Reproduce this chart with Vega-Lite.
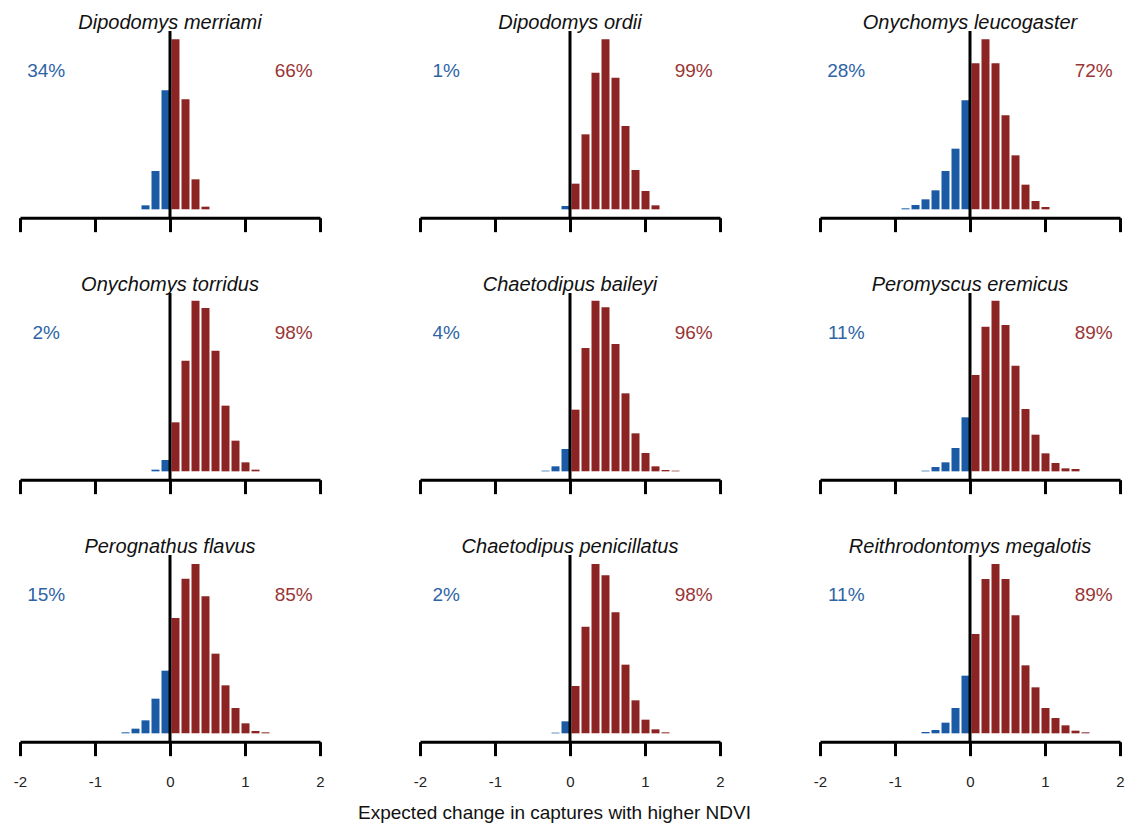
{
  "$schema": "https://vega.github.io/schema/vega-lite/v6.json",
  "autosize": {"type": "pad"},
  "padding": {"left": 13, "top": 12, "right": 0, "bottom": 0},
  "background": "white",
  "datasets": {
    "bars": [
      {"species": "Dipodomys merriami", "x0": -0.4, "x1": -0.2667, "h": 12, "sign": "neg"},
      {"species": "Dipodomys merriami", "x0": -0.2667, "x1": -0.1333, "h": 115, "sign": "neg"},
      {"species": "Dipodomys merriami", "x0": -0.1333, "x1": 0, "h": 357, "sign": "neg"},
      {"species": "Dipodomys merriami", "x0": 0, "x1": 0.1333, "h": 510, "sign": "pos"},
      {"species": "Dipodomys merriami", "x0": 0.1333, "x1": 0.2667, "h": 330, "sign": "pos"},
      {"species": "Dipodomys merriami", "x0": 0.2667, "x1": 0.4, "h": 90, "sign": "pos"},
      {"species": "Dipodomys merriami", "x0": 0.4, "x1": 0.5333, "h": 8, "sign": "pos"},

      {"species": "Dipodomys ordii", "x0": -0.1333, "x1": 0, "h": 10, "sign": "neg"},
      {"species": "Dipodomys ordii", "x0": 0, "x1": 0.1333, "h": 77, "sign": "pos"},
      {"species": "Dipodomys ordii", "x0": 0.1333, "x1": 0.2667, "h": 225, "sign": "pos"},
      {"species": "Dipodomys ordii", "x0": 0.2667, "x1": 0.4, "h": 410, "sign": "pos"},
      {"species": "Dipodomys ordii", "x0": 0.4, "x1": 0.5333, "h": 510, "sign": "pos"},
      {"species": "Dipodomys ordii", "x0": 0.5333, "x1": 0.6667, "h": 395, "sign": "pos"},
      {"species": "Dipodomys ordii", "x0": 0.6667, "x1": 0.8, "h": 250, "sign": "pos"},
      {"species": "Dipodomys ordii", "x0": 0.8, "x1": 0.9333, "h": 118, "sign": "pos"},
      {"species": "Dipodomys ordii", "x0": 0.9333, "x1": 1.0667, "h": 55, "sign": "pos"},
      {"species": "Dipodomys ordii", "x0": 1.0667, "x1": 1.2, "h": 12, "sign": "pos"},

      {"species": "Onychomys leucogaster", "x0": -0.9333, "x1": -0.8, "h": 3, "sign": "neg"},
      {"species": "Onychomys leucogaster", "x0": -0.8, "x1": -0.6667, "h": 13, "sign": "neg"},
      {"species": "Onychomys leucogaster", "x0": -0.6667, "x1": -0.5333, "h": 30, "sign": "neg"},
      {"species": "Onychomys leucogaster", "x0": -0.5333, "x1": -0.4, "h": 57, "sign": "neg"},
      {"species": "Onychomys leucogaster", "x0": -0.4, "x1": -0.2667, "h": 115, "sign": "neg"},
      {"species": "Onychomys leucogaster", "x0": -0.2667, "x1": -0.1333, "h": 182, "sign": "neg"},
      {"species": "Onychomys leucogaster", "x0": -0.1333, "x1": 0, "h": 327, "sign": "neg"},
      {"species": "Onychomys leucogaster", "x0": 0, "x1": 0.1333, "h": 438, "sign": "pos"},
      {"species": "Onychomys leucogaster", "x0": 0.1333, "x1": 0.2667, "h": 510, "sign": "pos"},
      {"species": "Onychomys leucogaster", "x0": 0.2667, "x1": 0.4, "h": 438, "sign": "pos"},
      {"species": "Onychomys leucogaster", "x0": 0.4, "x1": 0.5333, "h": 282, "sign": "pos"},
      {"species": "Onychomys leucogaster", "x0": 0.5333, "x1": 0.6667, "h": 162, "sign": "pos"},
      {"species": "Onychomys leucogaster", "x0": 0.6667, "x1": 0.8, "h": 74, "sign": "pos"},
      {"species": "Onychomys leucogaster", "x0": 0.8, "x1": 0.9333, "h": 25, "sign": "pos"},
      {"species": "Onychomys leucogaster", "x0": 0.9333, "x1": 1.0667, "h": 7, "sign": "pos"},

      {"species": "Onychomys torridus", "x0": -0.2667, "x1": -0.1333, "h": 5, "sign": "neg"},
      {"species": "Onychomys torridus", "x0": -0.1333, "x1": 0, "h": 34, "sign": "neg"},
      {"species": "Onychomys torridus", "x0": 0, "x1": 0.1333, "h": 147, "sign": "pos"},
      {"species": "Onychomys torridus", "x0": 0.1333, "x1": 0.2667, "h": 332, "sign": "pos"},
      {"species": "Onychomys torridus", "x0": 0.2667, "x1": 0.4, "h": 512, "sign": "pos"},
      {"species": "Onychomys torridus", "x0": 0.4, "x1": 0.5333, "h": 490, "sign": "pos"},
      {"species": "Onychomys torridus", "x0": 0.5333, "x1": 0.6667, "h": 362, "sign": "pos"},
      {"species": "Onychomys torridus", "x0": 0.6667, "x1": 0.8, "h": 197, "sign": "pos"},
      {"species": "Onychomys torridus", "x0": 0.8, "x1": 0.9333, "h": 92, "sign": "pos"},
      {"species": "Onychomys torridus", "x0": 0.9333, "x1": 1.0667, "h": 27, "sign": "pos"},
      {"species": "Onychomys torridus", "x0": 1.0667, "x1": 1.2, "h": 5, "sign": "pos"},

      {"species": "Chaetodipus baileyi", "x0": -0.4, "x1": -0.2667, "h": 2, "sign": "neg"},
      {"species": "Chaetodipus baileyi", "x0": -0.2667, "x1": -0.1333, "h": 15, "sign": "neg"},
      {"species": "Chaetodipus baileyi", "x0": -0.1333, "x1": 0, "h": 67, "sign": "neg"},
      {"species": "Chaetodipus baileyi", "x0": 0, "x1": 0.1333, "h": 185, "sign": "pos"},
      {"species": "Chaetodipus baileyi", "x0": 0.1333, "x1": 0.2667, "h": 370, "sign": "pos"},
      {"species": "Chaetodipus baileyi", "x0": 0.2667, "x1": 0.4, "h": 512, "sign": "pos"},
      {"species": "Chaetodipus baileyi", "x0": 0.4, "x1": 0.5333, "h": 492, "sign": "pos"},
      {"species": "Chaetodipus baileyi", "x0": 0.5333, "x1": 0.6667, "h": 382, "sign": "pos"},
      {"species": "Chaetodipus baileyi", "x0": 0.6667, "x1": 0.8, "h": 234, "sign": "pos"},
      {"species": "Chaetodipus baileyi", "x0": 0.8, "x1": 0.9333, "h": 114, "sign": "pos"},
      {"species": "Chaetodipus baileyi", "x0": 0.9333, "x1": 1.0667, "h": 55, "sign": "pos"},
      {"species": "Chaetodipus baileyi", "x0": 1.0667, "x1": 1.2, "h": 15, "sign": "pos"},
      {"species": "Chaetodipus baileyi", "x0": 1.2, "x1": 1.3333, "h": 4, "sign": "pos"},
      {"species": "Chaetodipus baileyi", "x0": 1.3333, "x1": 1.4667, "h": 2, "sign": "pos"},

      {"species": "Peromyscus eremicus", "x0": -0.6667, "x1": -0.5333, "h": 2, "sign": "neg"},
      {"species": "Peromyscus eremicus", "x0": -0.5333, "x1": -0.4, "h": 13, "sign": "neg"},
      {"species": "Peromyscus eremicus", "x0": -0.4, "x1": -0.2667, "h": 27, "sign": "neg"},
      {"species": "Peromyscus eremicus", "x0": -0.2667, "x1": -0.1333, "h": 70, "sign": "neg"},
      {"species": "Peromyscus eremicus", "x0": -0.1333, "x1": 0, "h": 162, "sign": "neg"},
      {"species": "Peromyscus eremicus", "x0": 0, "x1": 0.1333, "h": 289, "sign": "pos"},
      {"species": "Peromyscus eremicus", "x0": 0.1333, "x1": 0.2667, "h": 434, "sign": "pos"},
      {"species": "Peromyscus eremicus", "x0": 0.2667, "x1": 0.4, "h": 512, "sign": "pos"},
      {"species": "Peromyscus eremicus", "x0": 0.4, "x1": 0.5333, "h": 439, "sign": "pos"},
      {"species": "Peromyscus eremicus", "x0": 0.5333, "x1": 0.6667, "h": 317, "sign": "pos"},
      {"species": "Peromyscus eremicus", "x0": 0.6667, "x1": 0.8, "h": 187, "sign": "pos"},
      {"species": "Peromyscus eremicus", "x0": 0.8, "x1": 0.9333, "h": 110, "sign": "pos"},
      {"species": "Peromyscus eremicus", "x0": 0.9333, "x1": 1.0667, "h": 54, "sign": "pos"},
      {"species": "Peromyscus eremicus", "x0": 1.0667, "x1": 1.2, "h": 25, "sign": "pos"},
      {"species": "Peromyscus eremicus", "x0": 1.2, "x1": 1.3333, "h": 9, "sign": "pos"},
      {"species": "Peromyscus eremicus", "x0": 1.3333, "x1": 1.4667, "h": 7, "sign": "pos"},

      {"species": "Perognathus flavus", "x0": -0.6667, "x1": -0.5333, "h": 3, "sign": "neg"},
      {"species": "Perognathus flavus", "x0": -0.5333, "x1": -0.4, "h": 14, "sign": "neg"},
      {"species": "Perognathus flavus", "x0": -0.4, "x1": -0.2667, "h": 39, "sign": "neg"},
      {"species": "Perognathus flavus", "x0": -0.2667, "x1": -0.1333, "h": 104, "sign": "neg"},
      {"species": "Perognathus flavus", "x0": -0.1333, "x1": 0, "h": 188, "sign": "neg"},
      {"species": "Perognathus flavus", "x0": 0, "x1": 0.1333, "h": 346, "sign": "pos"},
      {"species": "Perognathus flavus", "x0": 0.1333, "x1": 0.2667, "h": 464, "sign": "pos"},
      {"species": "Perognathus flavus", "x0": 0.2667, "x1": 0.4, "h": 508, "sign": "pos"},
      {"species": "Perognathus flavus", "x0": 0.4, "x1": 0.5333, "h": 411, "sign": "pos"},
      {"species": "Perognathus flavus", "x0": 0.5333, "x1": 0.6667, "h": 239, "sign": "pos"},
      {"species": "Perognathus flavus", "x0": 0.6667, "x1": 0.8, "h": 144, "sign": "pos"},
      {"species": "Perognathus flavus", "x0": 0.8, "x1": 0.9333, "h": 76, "sign": "pos"},
      {"species": "Perognathus flavus", "x0": 0.9333, "x1": 1.0667, "h": 30, "sign": "pos"},
      {"species": "Perognathus flavus", "x0": 1.0667, "x1": 1.2, "h": 7, "sign": "pos"},
      {"species": "Perognathus flavus", "x0": 1.2, "x1": 1.3333, "h": 3, "sign": "pos"},

      {"species": "Chaetodipus penicillatus", "x0": -0.2667, "x1": -0.1333, "h": 2, "sign": "neg"},
      {"species": "Chaetodipus penicillatus", "x0": -0.1333, "x1": 0, "h": 36, "sign": "neg"},
      {"species": "Chaetodipus penicillatus", "x0": 0, "x1": 0.1333, "h": 142, "sign": "pos"},
      {"species": "Chaetodipus penicillatus", "x0": 0.1333, "x1": 0.2667, "h": 320, "sign": "pos"},
      {"species": "Chaetodipus penicillatus", "x0": 0.2667, "x1": 0.4, "h": 508, "sign": "pos"},
      {"species": "Chaetodipus penicillatus", "x0": 0.4, "x1": 0.5333, "h": 474, "sign": "pos"},
      {"species": "Chaetodipus penicillatus", "x0": 0.5333, "x1": 0.6667, "h": 363, "sign": "pos"},
      {"species": "Chaetodipus penicillatus", "x0": 0.6667, "x1": 0.8, "h": 206, "sign": "pos"},
      {"species": "Chaetodipus penicillatus", "x0": 0.8, "x1": 0.9333, "h": 99, "sign": "pos"},
      {"species": "Chaetodipus penicillatus", "x0": 0.9333, "x1": 1.0667, "h": 41, "sign": "pos"},
      {"species": "Chaetodipus penicillatus", "x0": 1.0667, "x1": 1.2, "h": 12, "sign": "pos"},
      {"species": "Chaetodipus penicillatus", "x0": 1.2, "x1": 1.3333, "h": 3, "sign": "pos"},

      {"species": "Reithrodontomys megalotis", "x0": -0.6667, "x1": -0.5333, "h": 4, "sign": "neg"},
      {"species": "Reithrodontomys megalotis", "x0": -0.5333, "x1": -0.4, "h": 10, "sign": "neg"},
      {"species": "Reithrodontomys megalotis", "x0": -0.4, "x1": -0.2667, "h": 32, "sign": "neg"},
      {"species": "Reithrodontomys megalotis", "x0": -0.2667, "x1": -0.1333, "h": 76, "sign": "neg"},
      {"species": "Reithrodontomys megalotis", "x0": -0.1333, "x1": 0, "h": 173, "sign": "neg"},
      {"species": "Reithrodontomys megalotis", "x0": 0, "x1": 0.1333, "h": 298, "sign": "pos"},
      {"species": "Reithrodontomys megalotis", "x0": 0.1333, "x1": 0.2667, "h": 463, "sign": "pos"},
      {"species": "Reithrodontomys megalotis", "x0": 0.2667, "x1": 0.4, "h": 508, "sign": "pos"},
      {"species": "Reithrodontomys megalotis", "x0": 0.4, "x1": 0.5333, "h": 463, "sign": "pos"},
      {"species": "Reithrodontomys megalotis", "x0": 0.5333, "x1": 0.6667, "h": 354, "sign": "pos"},
      {"species": "Reithrodontomys megalotis", "x0": 0.6667, "x1": 0.8, "h": 204, "sign": "pos"},
      {"species": "Reithrodontomys megalotis", "x0": 0.8, "x1": 0.9333, "h": 138, "sign": "pos"},
      {"species": "Reithrodontomys megalotis", "x0": 0.9333, "x1": 1.0667, "h": 76, "sign": "pos"},
      {"species": "Reithrodontomys megalotis", "x0": 1.0667, "x1": 1.2, "h": 46, "sign": "pos"},
      {"species": "Reithrodontomys megalotis", "x0": 1.2, "x1": 1.3333, "h": 24, "sign": "pos"},
      {"species": "Reithrodontomys megalotis", "x0": 1.3333, "x1": 1.4667, "h": 8, "sign": "pos"},
      {"species": "Reithrodontomys megalotis", "x0": 1.4667, "x1": 1.6, "h": 3, "sign": "pos"}
    ],
    "labels": [
      {"species": "Dipodomys merriami", "neg": "34%", "pos": "66%"},
      {"species": "Dipodomys ordii", "neg": "1%", "pos": "99%"},
      {"species": "Onychomys leucogaster", "neg": "28%", "pos": "72%"},
      {"species": "Onychomys torridus", "neg": "2%", "pos": "98%"},
      {"species": "Chaetodipus baileyi", "neg": "4%", "pos": "96%"},
      {"species": "Peromyscus eremicus", "neg": "11%", "pos": "89%"},
      {"species": "Perognathus flavus", "neg": "15%", "pos": "85%"},
      {"species": "Chaetodipus penicillatus", "neg": "2%", "pos": "98%"},
      {"species": "Reithrodontomys megalotis", "neg": "11%", "pos": "89%"}
    ]
  },
  "columns": 3,
  "spacing": {"row": 75, "column": 100},
  "bounds": "flush",
  "concat": [
    {"width": 300, "height": 186.667, "title": "Dipodomys merriami", "transform": [{"filter": "datum.species === 'Dipodomys merriami'"}], "data": {"name": "bars"},
     "layer": [
      {"mark": {"type": "bar", "binSpacing": 2}, "encoding": {"x": {"field": "x0", "type": "quantitative", "bin": "binned", "scale": {"domain": [-2, 2], "nice": false}, "axis": {"values": [-2, -1, 0, 1, 2], "labels": false, "title": null}}, "x2": {"field": "x1"}, "y": {"field": "h", "type": "quantitative", "scale": {"domain": [-25, 535], "nice": false, "zero": false}, "axis": null}, "y2": {"datum": 0}, "color": {"field": "sign", "type": "nominal", "scale": {"domain": ["neg", "pos"], "range": ["#1b5aa5", "#8c2424"]}, "legend": null}}},
      {"data": {"name": "labels"}, "transform": [{"filter": "datum.species === 'Dipodomys merriami'"}], "mark": {"type": "rule", "strokeWidth": 3, "color": "black"}, "encoding": {"x": {"datum": 0}, "y": {"datum": -25}, "y2": {"datum": 535}}},
      {"data": {"name": "labels"}, "transform": [{"filter": "datum.species === 'Dipodomys merriami'"}], "mark": {"type": "text", "fontSize": 19, "color": "#2e64a6", "baseline": "middle"}, "encoding": {"x": {"datum": -1.65}, "y": {"datum": 415}, "text": {"field": "neg"}}},
      {"data": {"name": "labels"}, "transform": [{"filter": "datum.species === 'Dipodomys merriami'"}], "mark": {"type": "text", "fontSize": 19, "color": "#993636", "baseline": "middle"}, "encoding": {"x": {"datum": 1.65}, "y": {"datum": 415}, "text": {"field": "pos"}}}
     ]},
    {"width": 300, "height": 186.667, "title": "Dipodomys ordii", "transform": [{"filter": "datum.species === 'Dipodomys ordii'"}], "data": {"name": "bars"},
     "layer": [
      {"mark": {"type": "bar", "binSpacing": 2}, "encoding": {"x": {"field": "x0", "type": "quantitative", "bin": "binned", "scale": {"domain": [-2, 2], "nice": false}, "axis": {"values": [-2, -1, 0, 1, 2], "labels": false, "title": null}}, "x2": {"field": "x1"}, "y": {"field": "h", "type": "quantitative", "scale": {"domain": [-25, 535], "nice": false, "zero": false}, "axis": null}, "y2": {"datum": 0}, "color": {"field": "sign", "type": "nominal", "scale": {"domain": ["neg", "pos"], "range": ["#1b5aa5", "#8c2424"]}, "legend": null}}},
      {"data": {"name": "labels"}, "transform": [{"filter": "datum.species === 'Dipodomys ordii'"}], "mark": {"type": "rule", "strokeWidth": 3, "color": "black"}, "encoding": {"x": {"datum": 0}, "y": {"datum": -25}, "y2": {"datum": 535}}},
      {"data": {"name": "labels"}, "transform": [{"filter": "datum.species === 'Dipodomys ordii'"}], "mark": {"type": "text", "fontSize": 19, "color": "#2e64a6", "baseline": "middle"}, "encoding": {"x": {"datum": -1.65}, "y": {"datum": 415}, "text": {"field": "neg"}}},
      {"data": {"name": "labels"}, "transform": [{"filter": "datum.species === 'Dipodomys ordii'"}], "mark": {"type": "text", "fontSize": 19, "color": "#993636", "baseline": "middle"}, "encoding": {"x": {"datum": 1.65}, "y": {"datum": 415}, "text": {"field": "pos"}}}
     ]},
    {"width": 300, "height": 186.667, "title": "Onychomys leucogaster", "transform": [{"filter": "datum.species === 'Onychomys leucogaster'"}], "data": {"name": "bars"},
     "layer": [
      {"mark": {"type": "bar", "binSpacing": 2}, "encoding": {"x": {"field": "x0", "type": "quantitative", "bin": "binned", "scale": {"domain": [-2, 2], "nice": false}, "axis": {"values": [-2, -1, 0, 1, 2], "labels": false, "title": null}}, "x2": {"field": "x1"}, "y": {"field": "h", "type": "quantitative", "scale": {"domain": [-25, 535], "nice": false, "zero": false}, "axis": null}, "y2": {"datum": 0}, "color": {"field": "sign", "type": "nominal", "scale": {"domain": ["neg", "pos"], "range": ["#1b5aa5", "#8c2424"]}, "legend": null}}},
      {"data": {"name": "labels"}, "transform": [{"filter": "datum.species === 'Onychomys leucogaster'"}], "mark": {"type": "rule", "strokeWidth": 3, "color": "black"}, "encoding": {"x": {"datum": 0}, "y": {"datum": -25}, "y2": {"datum": 535}}},
      {"data": {"name": "labels"}, "transform": [{"filter": "datum.species === 'Onychomys leucogaster'"}], "mark": {"type": "text", "fontSize": 19, "color": "#2e64a6", "baseline": "middle"}, "encoding": {"x": {"datum": -1.65}, "y": {"datum": 415}, "text": {"field": "neg"}}},
      {"data": {"name": "labels"}, "transform": [{"filter": "datum.species === 'Onychomys leucogaster'"}], "mark": {"type": "text", "fontSize": 19, "color": "#993636", "baseline": "middle"}, "encoding": {"x": {"datum": 1.65}, "y": {"datum": 415}, "text": {"field": "pos"}}}
     ]},
    {"width": 300, "height": 186.667, "title": "Onychomys torridus", "transform": [{"filter": "datum.species === 'Onychomys torridus'"}], "data": {"name": "bars"},
     "layer": [
      {"mark": {"type": "bar", "binSpacing": 2}, "encoding": {"x": {"field": "x0", "type": "quantitative", "bin": "binned", "scale": {"domain": [-2, 2], "nice": false}, "axis": {"values": [-2, -1, 0, 1, 2], "labels": false, "title": null}}, "x2": {"field": "x1"}, "y": {"field": "h", "type": "quantitative", "scale": {"domain": [-25, 535], "nice": false, "zero": false}, "axis": null}, "y2": {"datum": 0}, "color": {"field": "sign", "type": "nominal", "scale": {"domain": ["neg", "pos"], "range": ["#1b5aa5", "#8c2424"]}, "legend": null}}},
      {"data": {"name": "labels"}, "transform": [{"filter": "datum.species === 'Onychomys torridus'"}], "mark": {"type": "rule", "strokeWidth": 3, "color": "black"}, "encoding": {"x": {"datum": 0}, "y": {"datum": -25}, "y2": {"datum": 535}}},
      {"data": {"name": "labels"}, "transform": [{"filter": "datum.species === 'Onychomys torridus'"}], "mark": {"type": "text", "fontSize": 19, "color": "#2e64a6", "baseline": "middle"}, "encoding": {"x": {"datum": -1.65}, "y": {"datum": 415}, "text": {"field": "neg"}}},
      {"data": {"name": "labels"}, "transform": [{"filter": "datum.species === 'Onychomys torridus'"}], "mark": {"type": "text", "fontSize": 19, "color": "#993636", "baseline": "middle"}, "encoding": {"x": {"datum": 1.65}, "y": {"datum": 415}, "text": {"field": "pos"}}}
     ]},
    {"width": 300, "height": 186.667, "title": "Chaetodipus baileyi", "transform": [{"filter": "datum.species === 'Chaetodipus baileyi'"}], "data": {"name": "bars"},
     "layer": [
      {"mark": {"type": "bar", "binSpacing": 2}, "encoding": {"x": {"field": "x0", "type": "quantitative", "bin": "binned", "scale": {"domain": [-2, 2], "nice": false}, "axis": {"values": [-2, -1, 0, 1, 2], "labels": false, "title": null}}, "x2": {"field": "x1"}, "y": {"field": "h", "type": "quantitative", "scale": {"domain": [-25, 535], "nice": false, "zero": false}, "axis": null}, "y2": {"datum": 0}, "color": {"field": "sign", "type": "nominal", "scale": {"domain": ["neg", "pos"], "range": ["#1b5aa5", "#8c2424"]}, "legend": null}}},
      {"data": {"name": "labels"}, "transform": [{"filter": "datum.species === 'Chaetodipus baileyi'"}], "mark": {"type": "rule", "strokeWidth": 3, "color": "black"}, "encoding": {"x": {"datum": 0}, "y": {"datum": -25}, "y2": {"datum": 535}}},
      {"data": {"name": "labels"}, "transform": [{"filter": "datum.species === 'Chaetodipus baileyi'"}], "mark": {"type": "text", "fontSize": 19, "color": "#2e64a6", "baseline": "middle"}, "encoding": {"x": {"datum": -1.65}, "y": {"datum": 415}, "text": {"field": "neg"}}},
      {"data": {"name": "labels"}, "transform": [{"filter": "datum.species === 'Chaetodipus baileyi'"}], "mark": {"type": "text", "fontSize": 19, "color": "#993636", "baseline": "middle"}, "encoding": {"x": {"datum": 1.65}, "y": {"datum": 415}, "text": {"field": "pos"}}}
     ]},
    {"width": 300, "height": 186.667, "title": "Peromyscus eremicus", "transform": [{"filter": "datum.species === 'Peromyscus eremicus'"}], "data": {"name": "bars"},
     "layer": [
      {"mark": {"type": "bar", "binSpacing": 2}, "encoding": {"x": {"field": "x0", "type": "quantitative", "bin": "binned", "scale": {"domain": [-2, 2], "nice": false}, "axis": {"values": [-2, -1, 0, 1, 2], "labels": false, "title": null}}, "x2": {"field": "x1"}, "y": {"field": "h", "type": "quantitative", "scale": {"domain": [-25, 535], "nice": false, "zero": false}, "axis": null}, "y2": {"datum": 0}, "color": {"field": "sign", "type": "nominal", "scale": {"domain": ["neg", "pos"], "range": ["#1b5aa5", "#8c2424"]}, "legend": null}}},
      {"data": {"name": "labels"}, "transform": [{"filter": "datum.species === 'Peromyscus eremicus'"}], "mark": {"type": "rule", "strokeWidth": 3, "color": "black"}, "encoding": {"x": {"datum": 0}, "y": {"datum": -25}, "y2": {"datum": 535}}},
      {"data": {"name": "labels"}, "transform": [{"filter": "datum.species === 'Peromyscus eremicus'"}], "mark": {"type": "text", "fontSize": 19, "color": "#2e64a6", "baseline": "middle"}, "encoding": {"x": {"datum": -1.65}, "y": {"datum": 415}, "text": {"field": "neg"}}},
      {"data": {"name": "labels"}, "transform": [{"filter": "datum.species === 'Peromyscus eremicus'"}], "mark": {"type": "text", "fontSize": 19, "color": "#993636", "baseline": "middle"}, "encoding": {"x": {"datum": 1.65}, "y": {"datum": 415}, "text": {"field": "pos"}}}
     ]},
    {"width": 300, "height": 186.667, "title": "Perognathus flavus", "transform": [{"filter": "datum.species === 'Perognathus flavus'"}], "data": {"name": "bars"},
     "layer": [
      {"mark": {"type": "bar", "binSpacing": 2}, "encoding": {"x": {"field": "x0", "type": "quantitative", "bin": "binned", "scale": {"domain": [-2, 2], "nice": false}, "axis": {"values": [-2, -1, 0, 1, 2], "labels": true, "labelExpr": "'' + datum.value", "title": null}}, "x2": {"field": "x1"}, "y": {"field": "h", "type": "quantitative", "scale": {"domain": [-25, 535], "nice": false, "zero": false}, "axis": null}, "y2": {"datum": 0}, "color": {"field": "sign", "type": "nominal", "scale": {"domain": ["neg", "pos"], "range": ["#1b5aa5", "#8c2424"]}, "legend": null}}},
      {"data": {"name": "labels"}, "transform": [{"filter": "datum.species === 'Perognathus flavus'"}], "mark": {"type": "rule", "strokeWidth": 3, "color": "black"}, "encoding": {"x": {"datum": 0}, "y": {"datum": -25}, "y2": {"datum": 535}}},
      {"data": {"name": "labels"}, "transform": [{"filter": "datum.species === 'Perognathus flavus'"}], "mark": {"type": "text", "fontSize": 19, "color": "#2e64a6", "baseline": "middle"}, "encoding": {"x": {"datum": -1.65}, "y": {"datum": 415}, "text": {"field": "neg"}}},
      {"data": {"name": "labels"}, "transform": [{"filter": "datum.species === 'Perognathus flavus'"}], "mark": {"type": "text", "fontSize": 19, "color": "#993636", "baseline": "middle"}, "encoding": {"x": {"datum": 1.65}, "y": {"datum": 415}, "text": {"field": "pos"}}}
     ]},
    {"width": 300, "height": 186.667, "title": "Chaetodipus penicillatus", "transform": [{"filter": "datum.species === 'Chaetodipus penicillatus'"}], "data": {"name": "bars"},
     "layer": [
      {"mark": {"type": "bar", "binSpacing": 2}, "encoding": {"x": {"field": "x0", "type": "quantitative", "bin": "binned", "scale": {"domain": [-2, 2], "nice": false}, "axis": {"values": [-2, -1, 0, 1, 2], "labels": true, "labelExpr": "'' + datum.value", "title": "Expected change in captures with higher NDVI", "titleX": 134, "titleY": 71, "titleBaseline": "middle", "titleAlign": "center", "titleAnchor": null}}, "x2": {"field": "x1"}, "y": {"field": "h", "type": "quantitative", "scale": {"domain": [-25, 535], "nice": false, "zero": false}, "axis": null}, "y2": {"datum": 0}, "color": {"field": "sign", "type": "nominal", "scale": {"domain": ["neg", "pos"], "range": ["#1b5aa5", "#8c2424"]}, "legend": null}}},
      {"data": {"name": "labels"}, "transform": [{"filter": "datum.species === 'Chaetodipus penicillatus'"}], "mark": {"type": "rule", "strokeWidth": 3, "color": "black"}, "encoding": {"x": {"datum": 0}, "y": {"datum": -25}, "y2": {"datum": 535}}},
      {"data": {"name": "labels"}, "transform": [{"filter": "datum.species === 'Chaetodipus penicillatus'"}], "mark": {"type": "text", "fontSize": 19, "color": "#2e64a6", "baseline": "middle"}, "encoding": {"x": {"datum": -1.65}, "y": {"datum": 415}, "text": {"field": "neg"}}},
      {"data": {"name": "labels"}, "transform": [{"filter": "datum.species === 'Chaetodipus penicillatus'"}], "mark": {"type": "text", "fontSize": 19, "color": "#993636", "baseline": "middle"}, "encoding": {"x": {"datum": 1.65}, "y": {"datum": 415}, "text": {"field": "pos"}}}
     ]},
    {"width": 300, "height": 186.667, "title": "Reithrodontomys megalotis", "transform": [{"filter": "datum.species === 'Reithrodontomys megalotis'"}], "data": {"name": "bars"},
     "layer": [
      {"mark": {"type": "bar", "binSpacing": 2}, "encoding": {"x": {"field": "x0", "type": "quantitative", "bin": "binned", "scale": {"domain": [-2, 2], "nice": false}, "axis": {"values": [-2, -1, 0, 1, 2], "labels": true, "labelExpr": "'' + datum.value", "title": null}}, "x2": {"field": "x1"}, "y": {"field": "h", "type": "quantitative", "scale": {"domain": [-25, 535], "nice": false, "zero": false}, "axis": null}, "y2": {"datum": 0}, "color": {"field": "sign", "type": "nominal", "scale": {"domain": ["neg", "pos"], "range": ["#1b5aa5", "#8c2424"]}, "legend": null}}},
      {"data": {"name": "labels"}, "transform": [{"filter": "datum.species === 'Reithrodontomys megalotis'"}], "mark": {"type": "rule", "strokeWidth": 3, "color": "black"}, "encoding": {"x": {"datum": 0}, "y": {"datum": -25}, "y2": {"datum": 535}}},
      {"data": {"name": "labels"}, "transform": [{"filter": "datum.species === 'Reithrodontomys megalotis'"}], "mark": {"type": "text", "fontSize": 19, "color": "#2e64a6", "baseline": "middle"}, "encoding": {"x": {"datum": -1.65}, "y": {"datum": 415}, "text": {"field": "neg"}}},
      {"data": {"name": "labels"}, "transform": [{"filter": "datum.species === 'Reithrodontomys megalotis'"}], "mark": {"type": "text", "fontSize": 19, "color": "#993636", "baseline": "middle"}, "encoding": {"x": {"datum": 1.65}, "y": {"datum": 415}, "text": {"field": "pos"}}}
     ]}
  ],
  "config": {
    "font": "Liberation Sans",
    "view": {"stroke": null},
    "axis": {"domainColor": "black", "domainWidth": 3, "tickColor": "black", "tickWidth": 3, "tickSize": 14, "grid": false, "labelFontSize": 15, "labelColor": "#222222", "labelPadding": 19, "labelFont": "Liberation Sans", "titleFont": "Liberation Sans", "titleFontSize": 19, "titleFontWeight": "normal", "titleColor": "#111111", "labelFlush": false, "labelOverlap": false},
    "title": {"fontStyle": "italic", "fontWeight": "normal", "fontSize": 20, "font": "Liberation Sans", "baseline": "alphabetic", "offset": -3, "color": "#111111", "anchor": "middle"}
  }
}
